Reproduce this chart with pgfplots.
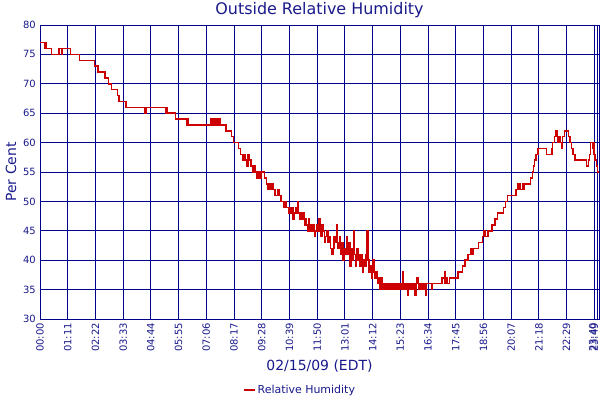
\documentclass[border=0pt]{standalone}
\usepackage{fontspec}
\setmainfont{DejaVu Sans}
\usepackage{pgfplots}
\pgfplotsset{compat=1.18}
\definecolor{gridnavy}{RGB}{0,0,140}
\definecolor{txtnavy}{RGB}{25,25,140}
\definecolor{hum}{RGB}{204,0,0}
\begin{document}
\begin{tikzpicture}
\useasboundingbox (0,0) rectangle (600bp,-400bp);
\begin{axis}[
  at={(40bp,-25bp)}, anchor=north west,
  scale only axis, width=559bp, height=294bp,
  xmin=0, xmax=1432, ymin=30, ymax=80,
  ytick={30,35,...,80},
  xtick={0,71,142,213,284,355,426,497,568,639,710,781,852,923,994,1065,1136,1207,1278,1349,1420,1429},
  xticklabels={00:00,01:11,02:22,03:33,04:44,05:55,07:06,08:17,09:28,10:39,11:50,13:01,14:12,15:23,16:34,17:45,18:56,20:07,21:18,22:29,
    \raisebox{1.5pt}[0.73em][0pt]{23:40},\raisebox{3.5pt}[0.73em][0pt]{23:49}},
  grid=major,
  major grid style={gridnavy, line width=1bp},
  axis line style={gridnavy, line width=1bp},
  tick style={draw=none},
  /pgf/number format/assume math mode=true,
  ticklabel style={font=\fontsize{10}{12}\selectfont, text=txtnavy},
  yticklabel style={inner sep=4pt},
  xticklabel style={rotate=90, anchor=east, inner sep=4pt},
  title={Outside Relative Humidity},
  title style={font=\fontsize{16}{19}\selectfont, text=txtnavy, at={(axis description cs:0.5,1)}, anchor=south, inner sep=1.5pt},
  ylabel={Per Cent},
  ylabel style={font=\fontsize{14}{17}\selectfont, text=txtnavy, at={(axis description cs:-0.052,0.5)}, anchor=center},
  xlabel={02/15/09 (EDT)},
  xlabel style={font=\fontsize{14}{17}\selectfont, text=txtnavy, at={(axis description cs:0.5,-0.16)}, anchor=center},
  legend style={at={(axis description cs:0.465,-0.2415)}, anchor=center, draw=none, fill=none,
    font=\fontsize{11}{13}\selectfont, text=txtnavy},
  legend image code/.code={\draw[#1,line width=1.8pt] (0pt,0pt) -- (11pt,0pt);},
]
\addplot[const plot, hum, line width=1.5bp] coordinates {
(0,77) (12,76) (13,77) (15,76) (29,75) (49,76) (56,75) (58,76) (78,75) (101,74)
(140,73) (149,72) (167,71) (176,70) (183,69) (198,68) (203,67) (220,66) (269,65) (271,66)
(323,65) (324,66) (326,65) (347,64) (376,63) (377,64) (379,63) (438,64) (440,63) (442,64)
(446,63) (448,64) (452,63) (455,64) (458,63) (460,64) (463,63) (477,62) (491,61) (496,60)
(508,59) (514,58) (520,57) (524,58) (527,57) (530,56) (533,58) (535,57) (540,56) (546,55)
(550,56) (552,55) (556,54) (560,55) (563,54) (566,55) (575,54) (580,53) (584,52) (587,53)
(590,52) (594,53) (598,52) (602,51) (610,52) (614,51) (618,50) (625,49) (628,50) (632,49)
(636,48) (639,49) (642,48) (645,49) (648,47) (651,48) (654,49) (657,48) (660,50) (662,48)
(665,47) (668,48) (671,47) (674,48) (677,46) (680,47) (683,46) (686,45) (689,47) (691,45)
(694,46) (697,45) (700,46) (703,44) (706,45) (709,46) (712,45) (715,47) (717,45) (720,44)
(723,46) (726,45) (729,43) (732,44) (735,45) (738,43) (741,44) (744,42) (747,41) (750,42)
(753,44) (756,43) (759,46) (761,43) (764,42) (767,44) (770,41) (773,43) (776,40) (779,42)
(782,41) (785,44) (788,41) (791,43) (794,39) (797,42) (800,40) (803,45) (805,41) (808,39)
(811,42) (814,40) (817,41) (820,39) (823,41) (826,38) (829,40) (832,39) (835,41) (838,45)
(840,40) (843,38) (846,39) (849,37) (852,40) (855,38) (858,37) (861,38) (864,36) (867,37)
(870,35) (873,37) (876,36) (879,35) (882,36) (886,35) (889,36) (892,35) (895,36) (899,35)
(902,36) (905,35) (909,36) (912,35) (916,36) (920,35) (923,36) (927,35) (930,38) (931,36)
(935,35) (938,36) (942,34) (944,36) (948,35) (951,36) (955,35) (958,36) (961,34) (963,36)
(966,37) (968,36) (971,35) (974,36) (978,35) (981,36) (985,35) (987,34) (989,36) (1004,35)
(1006,36) (1030,37) (1036,38) (1038,36) (1041,37) (1044,36) (1049,37) (1071,38) (1082,39) (1089,40)
(1097,41) (1104,42) (1107,41) (1110,42) (1123,43) (1133,44) (1138,45) (1140,44) (1148,45) (1158,46)
(1166,47) (1172,48) (1187,49) (1192,50) (1197,51) (1220,52) (1225,53) (1230,52) (1236,53) (1238,52)
(1241,53) (1256,54) (1261,55) (1264,56) (1267,57) (1271,58) (1276,59) (1298,58) (1311,59) (1313,60)
(1318,61) (1320,62) (1322,61) (1324,62) (1326,60) (1329,61) (1332,60) (1336,59) (1338,61) (1343,62)
(1354,61) (1358,60) (1361,59) (1365,58) (1371,57) (1400,56) (1405,57) (1408,58) (1410,60) (1415,59)
(1417,60) (1419,58) (1422,57) (1425,56) (1428,55) (1432,55)
};
\addlegendentry{Relative Humidity}
\end{axis}
\end{tikzpicture}
\end{document}
